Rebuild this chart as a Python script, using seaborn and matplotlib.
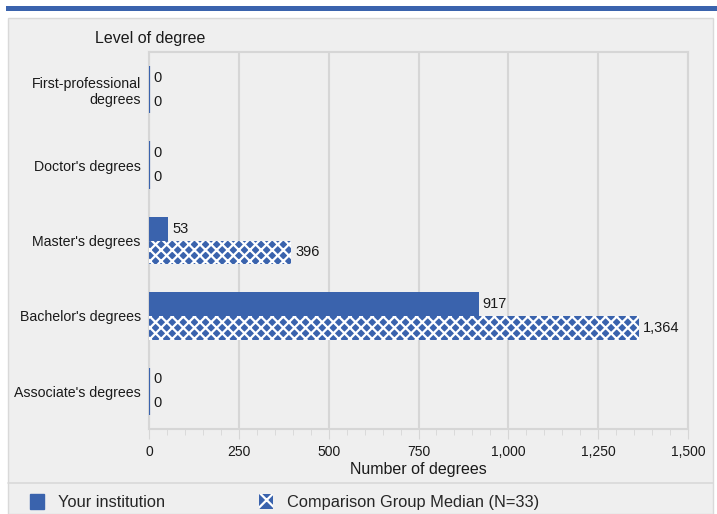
import matplotlib
matplotlib.use("Agg")
import matplotlib.pyplot as plt
import matplotlib.patches as mpatches
import matplotlib.ticker as mticker
import seaborn as sns
import pandas as pd

# data
levels = ["First-professional\ndegrees", "Doctor's degrees", "Master's degrees",
          "Bachelor's degrees", "Associate's degrees"]
your_inst = [0, 0, 53, 917, 0]
comparison = [0, 0, 396, 1364, 0]
groups = ["Your institution", "Comparison Group Median (N=33)"]
xticks = [0, 250, 500, 750, 1000, 1250, 1500]

blue = "#3a63ad"
panel = "#efefef"
gridc = "#d6d6d6"

df = pd.DataFrame({
    "level": levels * 2,
    "count": your_inst + comparison,
    "group": [groups[0]] * len(levels) + [groups[1]] * len(levels),
})

sns.set_style("white")
plt.rcParams["font.family"] = ["Liberation Sans", "DejaVu Sans"]
plt.rcParams["hatch.linewidth"] = 1.6

fig = plt.figure(figsize=(7.17, 5.14), dpi=100)
fig.patch.set_facecolor("white")

# outer gray panel, blue band on top, legend separator
fig.patches.append(mpatches.Rectangle((8 / 717, 0), 705 / 717, 1 - 18 / 514,
                                      transform=fig.transFigure, facecolor=panel,
                                      edgecolor="#d9d9d9", lw=1, zorder=-10))
fig.patches.append(mpatches.Rectangle((6 / 717, 1 - 11 / 514), 711 / 717, 5 / 514,
                                      transform=fig.transFigure, facecolor=blue,
                                      edgecolor="none", zorder=-10))
fig.add_artist(plt.Line2D([8 / 717, 713 / 717], [1 - 483 / 514] * 2,
                          transform=fig.transFigure, color="#d9d9d9", lw=1.2, zorder=-5))

ax = fig.add_axes([149 / 717, 1 - 429 / 514, 539 / 717, 377 / 514])
ax.set_facecolor(panel)

sns.barplot(data=df, y="level", x="count", hue="group", orient="h",
            palette=[blue, blue], saturation=1, width=0.63, legend=False, ax=ax)

for i, cont in enumerate(ax.containers):
    for bar, v in zip(cont, cont.datavalues):
        bar.set_zorder(3)
        bar.set_edgecolor(blue)
        # zero bars only show as a thin stroke on the axis
        bar.set_linewidth(1.6 if v == 0 else 0)
        if i == 1:
            bar.set_hatch("xxx")
            bar._hatch_color = (1, 1, 1, 1)

for cont in ax.containers:
    ax.bar_label(cont, labels=[f"{v:,.0f}" for v in cont.datavalues],
                 padding=3, fontsize=10.5, color="#1a1a1a")

ax.set_xlim(0, 1500)
ax.set_xticks(xticks)
ax.xaxis.set_major_formatter(mticker.StrMethodFormatter("{x:,.0f}"))
ax.xaxis.set_minor_locator(mticker.MultipleLocator(50))
ax.tick_params(axis="x", which="major", length=7, color=gridc, labelsize=10,
               pad=4.5, labelcolor="#1a1a1a", bottom=True)
ax.tick_params(axis="x", which="minor", length=4, color=gridc, bottom=True)
ax.tick_params(axis="y", length=0, labelsize=10.2, pad=6, labelcolor="#1a1a1a")
ax.grid(axis="x", color=gridc, lw=1.5)
ax.set_axisbelow(True)
for s in ax.spines.values():
    s.set_color(gridc)
    s.set_linewidth(1.5)

ax.set_xlabel("Number of degrees", fontsize=11.5, labelpad=2, color="#1a1a1a")
ax.set_ylabel("")
fig.text(95 / 717, 1 - 38 / 514, "Level of degree", fontsize=11.5,
         va="center", ha="left", color="#1a1a1a")

handles = [mpatches.Patch(facecolor=blue, edgecolor=blue, label=groups[0]),
           mpatches.Patch(facecolor=blue, edgecolor="white", hatch="x", lw=0,
                          label=groups[1])]
fig.legend(handles=handles, loc="center left", bbox_to_anchor=(30 / 717, 1 - 502 / 514),
           ncol=2, frameon=False, fontsize=11.8, handlelength=0.86, handleheight=1.0,
           columnspacing=5.7, handletextpad=0.85, borderaxespad=0, borderpad=0)

fig.savefig("out.png", dpi=100, facecolor=fig.get_facecolor())
